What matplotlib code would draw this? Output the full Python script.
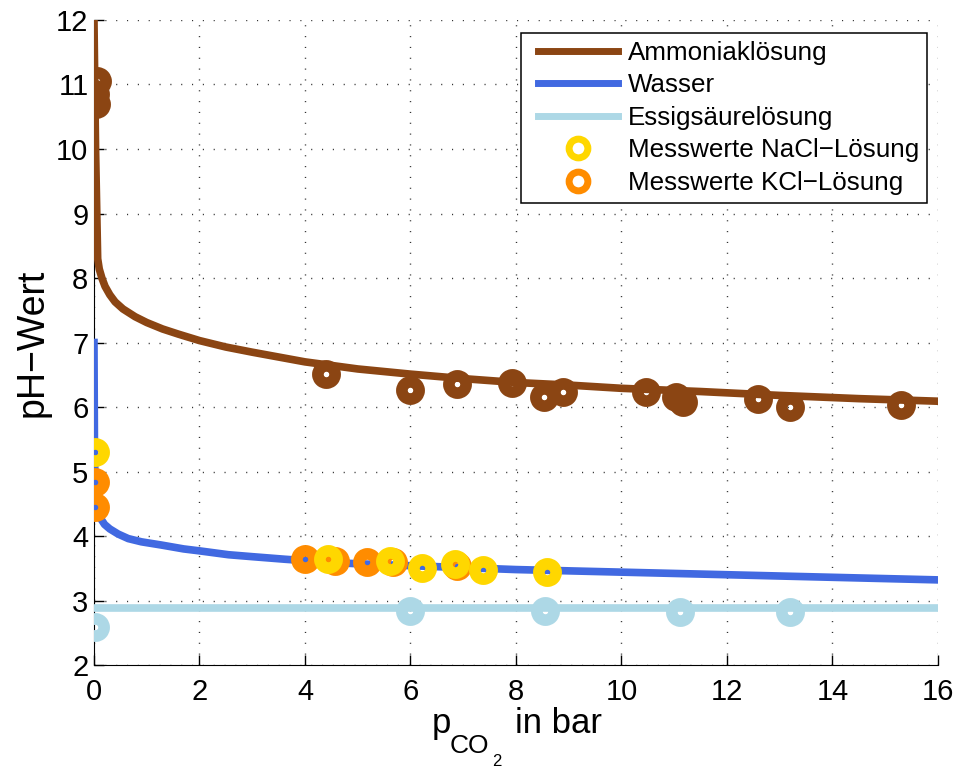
import matplotlib
matplotlib.use("Agg")
import matplotlib.pyplot as plt
from matplotlib.lines import Line2D
from matplotlib.legend_handler import HandlerLine2D

plt.rcParams['font.family'] = ['Liberation Sans', 'DejaVu Sans']

# model curves
ammoniak_x = [0, 0.03, 0.07, 0.1, 0.15, 0.21, 0.3, 0.4, 0.55, 0.78, 1.0, 1.3, 1.6, 2, 2.5, 3, 4, 5, 6, 7, 8, 9, 10, 11.5, 13, 14.5, 16]
ammoniak_y = [12.0, 10.0, 8.3, 8.14, 8.0, 7.87, 7.74, 7.63, 7.52, 7.40, 7.31, 7.21, 7.13, 7.03, 6.93, 6.85, 6.70, 6.59, 6.51, 6.44, 6.38, 6.34, 6.29, 6.24, 6.18, 6.13, 6.09]

wasser_x = [0, 0.01, 0.03, 0.05, 0.08, 0.12, 0.2, 0.3, 0.46, 0.65, 0.9, 1.28, 1.7, 2, 2.55, 3.0, 3.62, 4.5, 5, 6, 8, 10, 12, 14, 16]
wasser_y = [7.0, 5.2, 4.62, 4.45, 4.36, 4.28, 4.18, 4.11, 4.03, 3.96, 3.91, 3.86, 3.8, 3.77, 3.71, 3.68, 3.64, 3.59, 3.57, 3.54, 3.48, 3.44, 3.40, 3.36, 3.32]

essig_x = [0, 4, 8, 12, 16]
essig_y = [2.89, 2.89, 2.89, 2.89, 2.89]

# measured values
mess_ammoniak_x = [0.05, 0.02, 0.03, 4.39, 5.99, 6.88, 7.92, 8.53, 8.90, 10.46, 11.03, 11.16, 12.59, 13.19, 15.30]
mess_ammoniak_y = [11.05, 10.85, 10.70, 6.51, 6.26, 6.36, 6.38, 6.16, 6.24, 6.23, 6.16, 6.08, 6.12, 6.00, 6.03]

mess_essig_x = [0.02, 5.99, 8.55, 11.11, 13.19]
mess_essig_y = [2.59, 2.83, 2.83, 2.82, 2.82]

nacl_x = [0.02, 4.44, 5.61, 6.21, 6.84, 7.37, 8.58]
nacl_y = [5.30, 3.64, 3.61, 3.51, 3.57, 3.47, 3.44]

kcl_x = [0.02, 0.02, 4.01, 4.57, 5.17, 5.67, 6.88]
kcl_y = [4.84, 4.45, 3.64, 3.62, 3.59, 3.59, 3.54]

legend_labels = ['Ammoniaklösung', 'Wasser', 'Essigsäurelösung',
                 'Messwerte NaCl\u2212Lösung', 'Messwerte KCl\u2212Lösung']

braun = '#8B4513'
blau = '#4169E1'
hellblau = '#ADD8E6'
gelb = '#FFD700'
orange = '#FF8C00'


class ShiftedHandler(HandlerLine2D):
    # moves the legend handle a bit to the right, like the MATLAB legend
    def create_artists(self, legend, orig_handle, xdescent, ydescent, width, height, fontsize, trans):
        s = 6.5
        return super().create_artists(legend, orig_handle, xdescent - s, ydescent,
                                      width - s, height, fontsize, trans)


fig = plt.figure(figsize=(9.56, 7.69), dpi=100)
ax = fig.add_axes([0.0983, 0.1352, 0.8828, 0.8388])

ax.plot(ammoniak_x, ammoniak_y, color=braun, lw=5.5, zorder=3)
ax.plot(wasser_x, wasser_y, color=blau, lw=5.5, zorder=3)
ax.plot(essig_x, essig_y, color=hellblau, lw=5.5, zorder=3)

mk = dict(ls='none', marker='o', markersize=12.5, markeredgewidth=8.3, markerfacecolor='none')
ax.plot(mess_ammoniak_x, mess_ammoniak_y, markeredgecolor=braun, zorder=4, **mk)
ax.plot(mess_essig_x, mess_essig_y, markeredgecolor=hellblau, zorder=4, **mk)
ax.plot(kcl_x, kcl_y, markeredgecolor=orange, zorder=4, **mk)
ax.plot(nacl_x, nacl_y, markeredgecolor=gelb, zorder=5, **mk)

ax.set_xlim(0, 16)
ax.set_ylim(2, 12)
ax.set_xticks(range(0, 17, 2))
ax.set_yticks(range(2, 13))
ax.grid(True, ls=(0, (0.8, 7)), color='#333333', lw=1.0)
ax.spines['top'].set_visible(False)
ax.spines['right'].set_visible(False)
ax.tick_params(direction='in', length=7, width=1, labelsize=21)
ax.tick_params(axis='x', pad=9)
ax.tick_params(axis='y', pad=4)

ax.set_ylabel('pH\u2212Wert', fontsize=27)

# x label: p_{CO_2} in bar, built from pieces like the MATLAB tex interpreter
def px(x, y):
    return x / 956, 1 - y / 769

fig.text(*px(432, 733), 'p', fontsize=25, ha='left', va='baseline')
fig.text(*px(450, 753), 'CO', fontsize=19, ha='left', va='baseline')
fig.text(*px(492, 766), '2', fontsize=12, ha='left', va='baseline')
fig.text(*px(515, 733), 'in bar', fontsize=25, ha='left', va='baseline')

handles = [
    Line2D([], [], color=braun, lw=5),
    Line2D([], [], color=blau, lw=5),
    Line2D([], [], color=hellblau, lw=5),
    Line2D([], [], ls='none', marker='o', markersize=13.5, markeredgewidth=5,
           markerfacecolor='none', markeredgecolor=gelb),
    Line2D([], [], ls='none', marker='o', markersize=13.5, markeredgewidth=5,
           markerfacecolor='none', markeredgecolor=orange),
]
leg = ax.legend(handles, legend_labels, loc='upper right', bbox_to_anchor=(0.987, 0.980),
                borderaxespad=0, fontsize=18.7, fancybox=False, framealpha=1,
                edgecolor='black', handlelength=3.43, handletextpad=0.385,
                labelspacing=0.33, borderpad=0.3,
                handler_map={Line2D: ShiftedHandler()})
leg.get_frame().set_linewidth(1.1)

fig.savefig('out.png', dpi=100)
